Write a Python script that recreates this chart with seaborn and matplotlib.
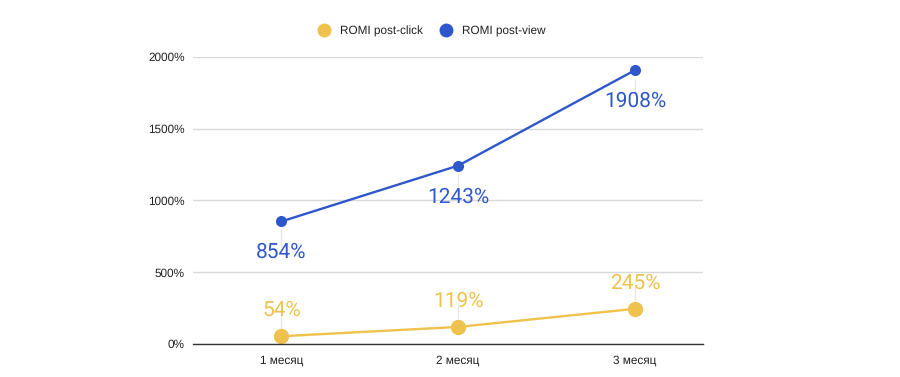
import matplotlib
matplotlib.use("Agg")
import matplotlib.pyplot as plt
import seaborn as sns
import pandas as pd
from matplotlib.lines import Line2D

categories = ["1 месяц", "2 месяц", "3 месяц"]
post_click = [54, 119, 245]
post_view = [854, 1243, 1908]
series_names = ["ROMI post-click", "ROMI post-view"]
yticks = [0, 500, 1000, 1500, 2000]

sns.set_theme(style="white")
plt.rcParams['font.family'] = ['Liberation Sans', 'DejaVu Sans']
plt.rcParams['text.hinting'] = 'no_hinting'

c_click = "#EEC24C"
c_view = "#2F57CC"

df = pd.DataFrame({
    "cat": list(range(len(categories))) * 2,
    "value": post_click + post_view,
    "series": [series_names[0]] * 3 + [series_names[1]] * 3,
})

fig = plt.figure(figsize=(9, 3.77), dpi=100)
ax = fig.add_axes([193/900, 1 - 344/377, (703-193)/900, (344-57)/377])

sns.lineplot(data=df[df.series == series_names[0]], x="cat", y="value", color=c_click,
             linewidth=1.7, marker="o", markersize=11, markeredgewidth=0, ax=ax, legend=False)
sns.lineplot(data=df[df.series == series_names[1]], x="cat", y="value", color=c_view,
             linewidth=1.7, marker="o", markersize=8, markeredgewidth=0, ax=ax, legend=False)

lab_font = ['Roboto', 'DejaVu Sans']
for i, v in enumerate(post_view):
    ax.plot([i, i], [v - 60, v - 170], color="#e6e6e6", lw=1, zorder=1)
    ax.annotate(f"{v}%", (i, v), xytext=(0, -31), textcoords="offset pixels",
                ha="center", va="center", fontsize=15, color=c_view, family=lab_font)
for i, v in enumerate(post_click):
    ax.plot([i, i], [v + 60, v + 150], color="#e6e6e6", lw=1, zorder=1)
    ax.annotate(f"{v}%", (i, v), xytext=(0, 26), textcoords="offset pixels",
                ha="center", va="center", fontsize=15, color=c_click, family=lab_font)

ax.set_xlim(-0.5, 2.385)
ax.set_ylim(0, 2000)
ax.set_yticks(yticks)
ax.set_yticklabels([f"{t}%" for t in yticks], fontsize=8.5, color="#222222")
ax.set_xticks(range(len(categories)))
ax.set_xticklabels(categories, fontsize=8.5, color="#222222")
ax.set_xlabel("")
ax.set_ylabel("")
ax.yaxis.grid(True, color="#d9d9d9", lw=1)
ax.set_axisbelow(True)
for s in ["top", "right", "left"]:
    ax.spines[s].set_visible(False)
ax.spines["bottom"].set_color("#333333")
ax.spines["bottom"].set_linewidth(1)
ax.tick_params(axis="both", length=0, pad=8)
ax.tick_params(axis="y", pad=6)

handles = [Line2D([], [], marker="o", linestyle="none", color=c_click, markersize=10, markeredgewidth=0),
           Line2D([], [], marker="o", linestyle="none", color=c_view, markersize=10, markeredgewidth=0)]
fig.legend(handles, series_names, loc="center", bbox_to_anchor=(429/900, 1 - 31/377), ncol=2,
           frameon=False, fontsize=8.5, handletextpad=0.4, columnspacing=0.9, labelcolor="#222222")

fig.savefig("out.png", dpi=100, facecolor="white")
